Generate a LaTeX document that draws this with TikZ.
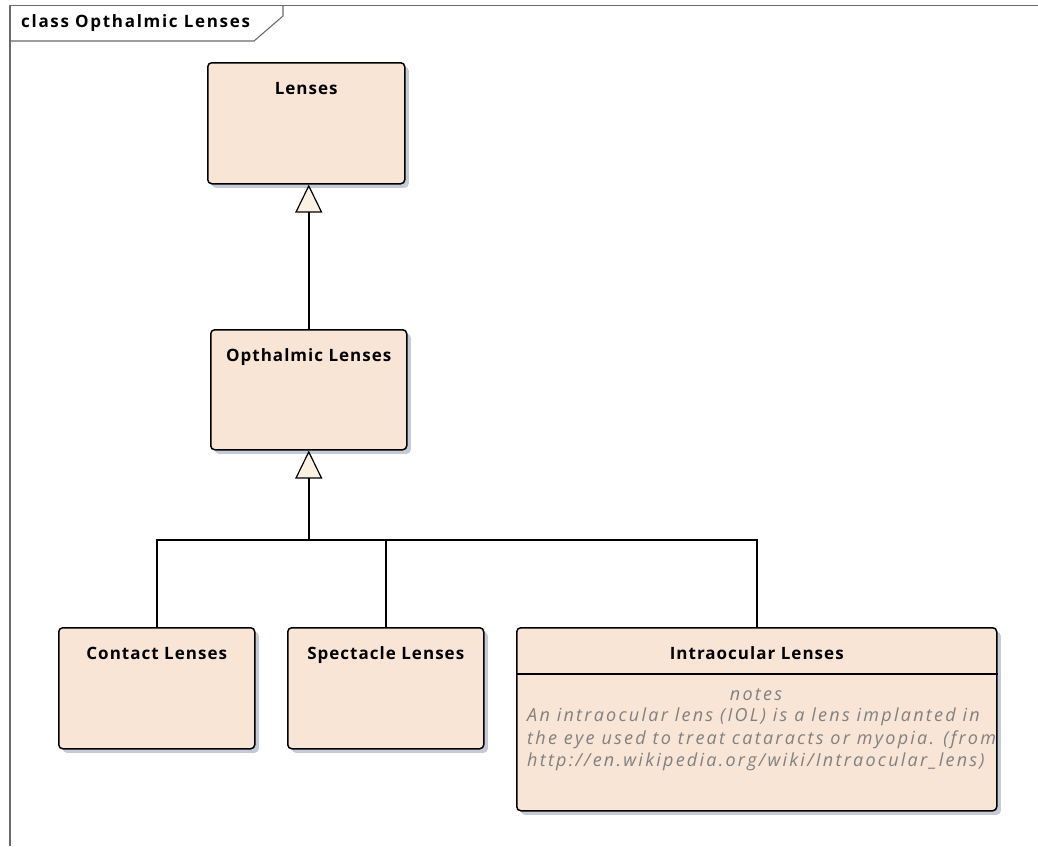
\documentclass[tikz,border=0pt]{standalone}
\usepackage{fontspec}
\setmainfont{Open Sans}
\usetikzlibrary{arrows.meta,shadows}
\definecolor{peche}{HTML}{F9E5D6}
\definecolor{ombre}{HTML}{C5CAD6}
\definecolor{creme}{HTML}{FBF1E3}
\definecolor{cadre}{HTML}{6A6A6A}
\definecolor{notegris}{HTML}{808080}
\tikzset{
  classe/.style={draw=black,line width=1.5pt,rounded corners=4pt,fill=peche,anchor=north west,
    inner sep=0pt,drop shadow={shadow xshift=4pt,shadow yshift=-4pt,fill=ombre,opacity=1}},
  titre/.style={font=\bfseries\fontsize{17}{20}\selectfont\addfontfeatures{LetterSpace=6},
    text height=12pt,text depth=3pt},
  note/.style={font=\itshape\fontsize{18}{22.5}\selectfont\addfontfeatures{LetterSpace=12.5},
    text=notegris,inner sep=0pt},
  herite/.style={line width=1.6pt,-{Triangle[length=28pt,width=27pt,fill=creme,line width=1.2pt]}},
}
\begin{document}
\begin{tikzpicture}[x=1pt,y=-1pt]
\useasboundingbox (0,0) rectangle (1038,846);
% Cadre
\draw[cadre,line width=1.3pt] (10,846) -- (10,5.5) -- (1038,5.5);
\draw[cadre,line width=1.1pt] (10,41) -- (254,41) -- (283,16) -- (283,5.5);
\node[font=\bfseries\fontsize{17}{20}\selectfont\addfontfeatures{LetterSpace=10},anchor=west,inner sep=0pt]
  (cadretitre) at (21,23.5) {class Opthalmic Lenses};
% Classes
\node[classe,minimum width=197pt,minimum height=121pt,label={[titre,anchor=center,yshift=-28pt]north:Lenses}] (lenses) at (207,62) {};
\node[classe,minimum width=196pt,minimum height=120pt,label={[titre,anchor=center,yshift=-28pt]north:Opthalmic Lenses}] (ophtalmic) at (210,329) {};
\node[classe,minimum width=196pt,minimum height=121pt,label={[titre,anchor=center,yshift=-28pt]north:Contact Lenses}] (contact) at (58,627) {};
\node[classe,minimum width=196pt,minimum height=121pt,label={[titre,anchor=center,yshift=-28pt]north:Spectacle Lenses}] (spectacle) at (287,627) {};
\node[classe,minimum width=480pt,minimum height=183pt,label={[titre,anchor=center,yshift=-28pt]north:Intraocular Lenses}] (intraocular) at (516,627) {};
\draw[line width=1.5pt] (intraocular.west |- 0,674) -- (intraocular.east |- 0,674);
\node[note] (notes) at (756,695) {notes};
\begin{scope}
  \clip (516,676) rectangle (1000,808);
  \node[note,anchor=north west,align=left] (notetexte) at (527,708) {An intraocular lens (IOL) is a lens implanted in\\the eye used to treat cataracts or myopia. (from\\http://en.wikipedia.org/wiki/Intraocular\_lens)};
\end{scope}
% Héritage
\coordinate (bus) at (ophtalmic.south |- 0,540);
\draw[herite] (ophtalmic.north) -- (ophtalmic.north |- lenses.south);
\draw[herite] (bus) -- (ophtalmic.south);
\draw[line width=1.6pt] (contact.north) |- (bus) -| (intraocular.north);
\draw[line width=1.6pt] (spectacle.north) -- (spectacle.north |- bus);
\end{tikzpicture}
\end{document}
